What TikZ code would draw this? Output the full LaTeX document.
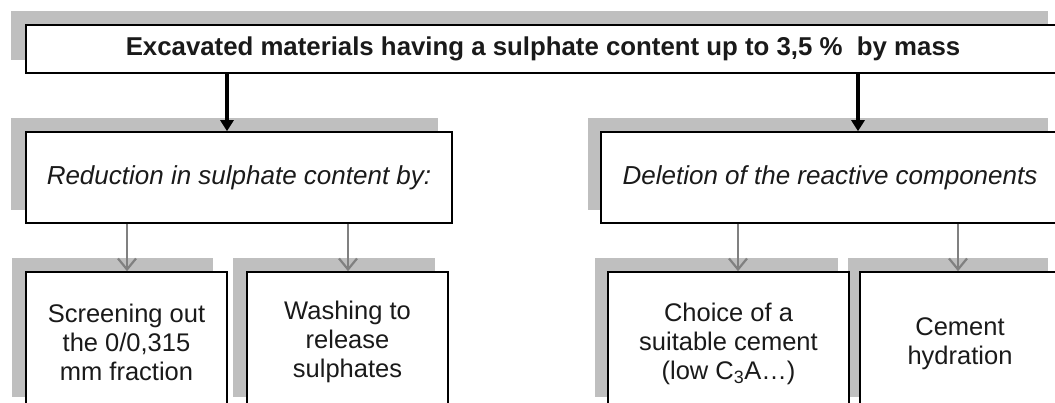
\documentclass[tikz,border=0pt]{standalone}
\usepackage{fontspec}
\setmainfont{Liberation Sans}
\usetikzlibrary{arrows.meta}
\definecolor{shadowgray}{HTML}{BFBFBF}
\definecolor{txt}{HTML}{1A1A1A}
\definecolor{garrow}{HTML}{808080}
\tikzset{
  box/.style={draw=black, line width=1.6pt, fill=white, inner sep=0pt},
  shade/.style={fill=shadowgray},
  label/.style={inner sep=0pt, text=txt, align=center},
  toptext/.style={label, font=\fontsize{25.8}{29}\selectfont\bfseries},
  midtext/.style={label, font=\fontsize{26}{29}\selectfont\itshape},
  lowtext/.style={label, font=\fontsize{25.5}{29}\selectfont},
  blackarrow/.style={draw=black, line width=3.5pt, -{Triangle[width=13pt,length=11pt]}},
  grayarrow/.style={draw=garrow, line width=2.2pt, -{Straight Barb[width=18pt,length=11pt]}}
}
\begin{document}
\begin{tikzpicture}[x=1pt,y=-1pt]
\clip (0,0) rectangle (1055,403);
\fill[white] (0,0) rectangle (1055,403);
% shadows
\fill[shade] (11,11) rectangle (1048,60);
\fill[shade] (11,118) rectangle (438,210);
\fill[shade] (588,118) rectangle (1048,210);
\fill[shade] (12,258) rectangle (213,397);
\fill[shade] (233,258) rectangle (435,397);
\fill[shade] (595,258) rectangle (838,397);
\fill[shade] (848,258) rectangle (1048,397);
% boxes
\node[box, minimum width=1036pt, minimum height=48pt] (top) at (544,49) {};
\node[box, minimum width=426pt, minimum height=91pt] (red) at (239,177.5) {};
\node[box, minimum width=461pt, minimum height=91pt] (del) at (831.5,177.5) {};
\node[box, minimum width=201pt, minimum height=160pt] (scr) at (126.5,352) {};
\node[box, minimum width=201pt, minimum height=160pt] (wash) at (347.5,352) {};
\node[box, minimum width=241pt, minimum height=160pt] (choice) at (728.5,352) {};
\node[box, minimum width=210pt, minimum height=160pt] (hyd) at (965,352) {};
% texts
\node[toptext] (ttop) at (543,49) {Excavated materials having a sulphate content up to 3,5 \%\ \ by mass};
\node[midtext] (tred) at (239,178) {Reduction in sulphate content by:};
\node[midtext] (tdel) at (830,178) {Deletion of the reactive components};
\node[lowtext] (tscr) at (126.5,342) {Screening out\\the 0/0,315\\mm fraction};
\node[lowtext] (twash) at (347.5,342) {Washing to\\release\\sulphates};
\node[lowtext] (tchoice) at (728.5,344) {Choice of a\\suitable cement\\(low C\textsubscript{3}A\dots)};
\node[lowtext] (thyd) at (960,344) {Cement\\hydration};
% connector columns
\coordinate (c1) at (227,0);
\coordinate (c2) at (858,0);
\coordinate (c3) at (127,0);
\coordinate (c4) at (348,0);
\coordinate (c5) at (738,0);
\coordinate (c6) at (958,0);
% arrows
\draw[blackarrow] (top.south -| c1) -- (red.north -| c1);
\draw[blackarrow] (top.south -| c2) -- (del.north -| c2);
\draw[grayarrow] (red.south -| c3) -- (scr.north -| c3);
\draw[grayarrow] (red.south -| c4) -- (wash.north -| c4);
\draw[grayarrow] (del.south -| c5) -- (choice.north -| c5);
\draw[grayarrow] (del.south -| c6) -- (hyd.north -| c6);
\end{tikzpicture}
\end{document}
